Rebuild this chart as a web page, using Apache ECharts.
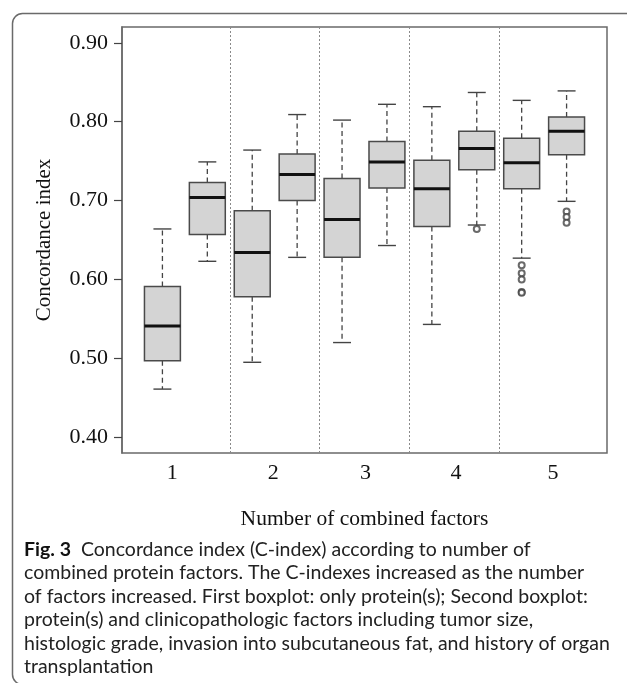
<!DOCTYPE html>
<html>
<head>
<meta charset="utf-8">
<script src="https://cdn.jsdelivr.net/npm/echarts@6/dist/echarts.min.js"></script>
<style>
html,body{margin:0;padding:0;background:#fff;}
#chart{width:627px;height:683px;}
</style>
</head>
<body>
<div id="chart"></div>
<script>
// ---- data ----
const boxPositions = [1, 2, 3, 4, 5, 6, 7, 8, 9, 10];
const whiskerLow  = [0.461, 0.623, 0.495, 0.628, 0.520, 0.643, 0.543, 0.669, 0.627, 0.699];
const quartile1   = [0.497, 0.657, 0.578, 0.700, 0.628, 0.716, 0.667, 0.739, 0.715, 0.758];
const medians     = [0.541, 0.704, 0.634, 0.733, 0.676, 0.749, 0.715, 0.766, 0.748, 0.788];
const quartile3   = [0.591, 0.723, 0.687, 0.759, 0.728, 0.775, 0.751, 0.788, 0.779, 0.806];
const whiskerHigh = [0.664, 0.749, 0.764, 0.809, 0.802, 0.822, 0.819, 0.837, 0.827, 0.839];
const outlierBox   = [8, 9, 9, 9, 9, 9, 10, 10, 10];
const outlierValue = [0.664, 0.618, 0.608, 0.600, 0.584, 0.583, 0.686, 0.679, 0.672];
const groupLabels = ['1', '2', '3', '4', '5'];
const groupLabelPos = [1.22, 3.47, 5.52, 7.54, 9.70];
const groupBoundaries = [2.5, 4.5, 6.5, 8.5];
const yTicks = [0.40, 0.50, 0.60, 0.70, 0.80, 0.90];
const yTitle = 'Concordance index';
const xTitle = 'Number of combined factors';
const captionLead = 'Fig. 3';
const captionLines = [
  'Concordance index (C-index) according to number of',
  'combined protein factors. The C-indexes increased as the number',
  'of factors increased. First boxplot: only protein(s); Second boxplot:',
  'protein(s) and clinicopathologic factors including tumor size,',
  'histologic grade, invasion into subcutaneous fat, and history of organ',
  'transplantation'
];

// ---- build ----
const boxRows = boxPositions.map((p, i) => [p, whiskerLow[i], quartile1[i], medians[i], quartile3[i], whiskerHigh[i]]);
const outlierRows = outlierBox.map((b, i) => [b, outlierValue[i]]);
const captionText = captionLines.map((l, i) => i === 0 ? '{b|' + captionLead + '}  ' + l : l).join('\n');

const capFamily = 'Lato, "Noto Sans", sans-serif';
const capSize = 19.5;
const serif = '"Liberation Serif", "Times New Roman", serif';
const chart = echarts.init(document.getElementById('chart'), null, {renderer: 'canvas'});

const option = {
  backgroundColor: '#fff',
  animation: false,
  grid: {left: 122, top: 27, width: 485, height: 426, show: true, borderColor: '#6a6a6a', borderWidth: 1.5, backgroundColor: 'transparent'},
  xAxis: {
    type: 'value', min: 0.1, max: 10.9,
    axisLine: {show: false}, axisTick: {show: false}, splitLine: {show: false},
    axisLabel: {
      customValues: groupLabelPos,
      margin: 9, color: '#111', fontFamily: serif, fontSize: 22,
      formatter: function (v) {
        let best = 0;
        groupLabelPos.forEach((p, i) => { if (Math.abs(p - v) < Math.abs(groupLabelPos[best] - v)) best = i; });
        return groupLabels[best];
      }
    },
    name: xTitle, nameLocation: 'middle', nameGap: 55,
    nameTextStyle: {fontFamily: serif, fontSize: 21.5, color: '#111'}
  },
  yAxis: {
    type: 'value', min: 0.38, max: 0.92,
    axisLine: {show: true, lineStyle: {color: '#6a6a6a', width: 1.5}},
    axisTick: {show: true, customValues: yTicks, length: 8, lineStyle: {color: '#444', width: 1.2}},
    splitLine: {show: false},
    axisLabel: {customValues: yTicks, margin: 14, color: '#111', fontFamily: serif, fontSize: 22,
      formatter: v => v.toFixed(2)},
    name: yTitle, nameLocation: 'middle', nameGap: 67, nameRotate: 90,
    nameTextStyle: {fontFamily: serif, fontSize: 21, color: '#111'}
  },
  series: [
    {
      type: 'custom',
      data: boxRows,
      encode: {x: 0, y: [1, 2, 3, 4, 5]},
      clip: false,
      renderItem: function (params, api) {
        const x = api.value(0);
        const lo = api.coord([x, api.value(1)]);
        const q1 = api.coord([x, api.value(2)]);
        const md = api.coord([x, api.value(3)]);
        const q3 = api.coord([x, api.value(4)]);
        const hi = api.coord([x, api.value(5)]);
        const halfW = api.size([0.8, 0])[0] / 2;
        const capHalf = api.size([0.4, 0])[0] / 2;
        const cx = lo[0];
        const wStyle = {stroke: '#444', lineWidth: 1.3, lineDash: [5, 3.5]};
        const cStyle = {stroke: '#444', lineWidth: 1.4};
        return {
          type: 'group',
          children: [
            {type: 'line', shape: {x1: cx, y1: q3[1], x2: cx, y2: hi[1]}, style: wStyle},
            {type: 'line', shape: {x1: cx, y1: q1[1], x2: cx, y2: lo[1]}, style: wStyle},
            {type: 'line', shape: {x1: cx - capHalf, y1: hi[1], x2: cx + capHalf, y2: hi[1]}, style: cStyle},
            {type: 'line', shape: {x1: cx - capHalf, y1: lo[1], x2: cx + capHalf, y2: lo[1]}, style: cStyle},
            {type: 'rect', shape: {x: cx - halfW, y: q3[1], width: 2 * halfW, height: q1[1] - q3[1]},
              style: {fill: '#d4d4d4', stroke: '#4a4a4a', lineWidth: 1.5}},
            {type: 'line', shape: {x1: cx - halfW, y1: md[1], x2: cx + halfW, y2: md[1]},
              style: {stroke: '#111', lineWidth: 3}}
          ]
        };
      },
      markLine: {
        silent: true, symbol: 'none', label: {show: false},
        lineStyle: {color: '#8a8a8a', width: 1, type: [2, 2]},
        data: groupBoundaries.map(v => ({xAxis: v}))
      },
      z: 3
    },
    {
      type: 'scatter',
      data: outlierRows,
      symbol: 'emptyCircle', symbolSize: 6,
      itemStyle: {color: '#444', borderColor: '#444', borderWidth: 1.2},
      z: 4
    }
  ],
  graphic: [
    {type: 'rect', left: 10, top: 11, shape: {x: 0, y: 0, width: 640, height: 671, r: 10},
      style: {fill: 'none', stroke: '#6a6a6a', lineWidth: 1.5}, silent: true, z: -1},
    {type: 'text', left: 24, top: 538,
      style: {
        text: captionText, fontFamily: capFamily, fontSize: capSize, lineHeight: 23.4, fill: '#222',
        rich: {b: {fontFamily: capFamily, fontWeight: 'bold', fontSize: capSize, fill: '#111', lineHeight: 23.4}}
      }}
  ]
};
chart.setOption(option);
</script>
</body>
</html>
